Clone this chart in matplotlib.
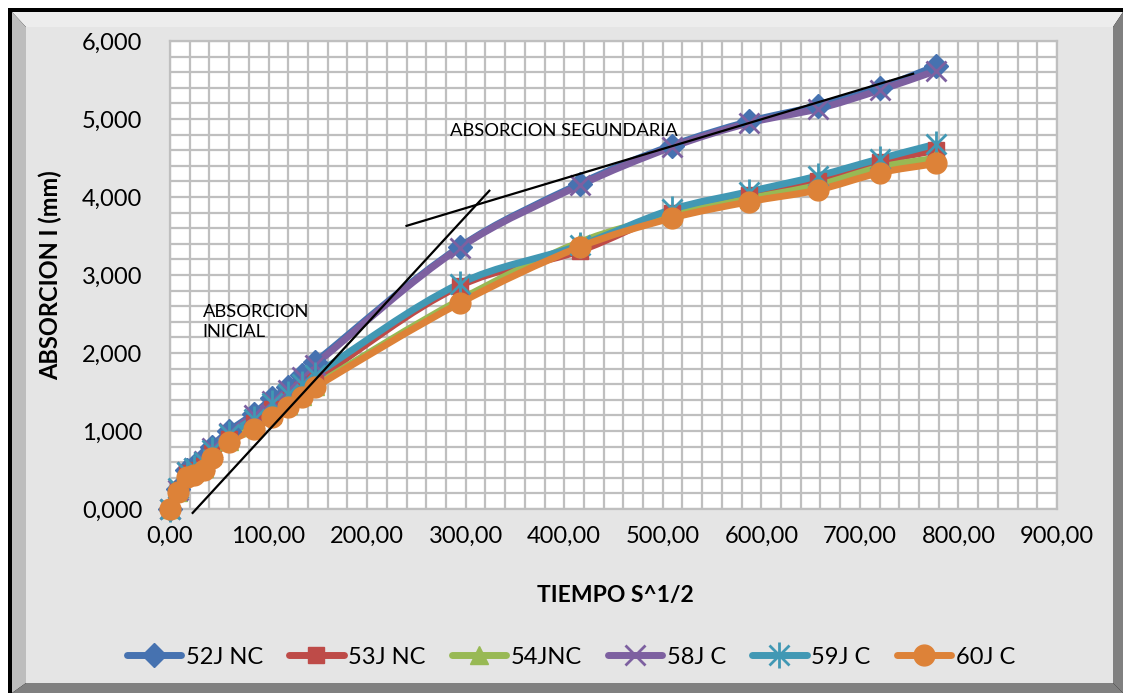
import numpy as np
import matplotlib
matplotlib.use('Agg')
import matplotlib.pyplot as plt
from matplotlib.path import Path
from matplotlib.patches import PathPatch, Polygon, Rectangle
from matplotlib.lines import Line2D
from matplotlib.ticker import FuncFormatter, MultipleLocator

plt.rcParams['font.family'] = ['Lato', 'DejaVu Sans']

# tiempo (raiz de segundos) y absorcion (mm) por probeta
tiempo = [0, 7.75, 17.32, 24.49, 34.64, 42.43, 60.00, 84.85, 103.92, 120.00,
          134.16, 146.97, 293.94, 415.69, 509.12, 587.88, 657.27, 720.00, 777.69]

j52_nc = [0, 0.26, 0.50, 0.55, 0.65, 0.80, 1.00, 1.22, 1.42, 1.56,
          1.72, 1.88, 3.36, 4.17, 4.66, 4.97, 5.17, 5.40, 5.68]
j53_nc = [0, 0.25, 0.46, 0.50, 0.55, 0.72, 0.90, 1.10, 1.28, 1.40,
          1.52, 1.65, 2.86, 3.31, 3.80, 4.03, 4.20, 4.45, 4.60]
j54_nc = [0, 0.22, 0.43, 0.47, 0.52, 0.69, 0.87, 1.05, 1.22, 1.33,
          1.45, 1.58, 2.68, 3.42, 3.77, 3.98, 4.15, 4.38, 4.50]
j58_c = [0, 0.24, 0.48, 0.53, 0.62, 0.78, 0.97, 1.20, 1.39, 1.53,
         1.69, 1.85, 3.35, 4.15, 4.64, 4.95, 5.13, 5.37, 5.62]
j59_c = [0, 0.27, 0.48, 0.52, 0.60, 0.76, 0.96, 1.16, 1.36, 1.48,
         1.60, 1.72, 2.89, 3.38, 3.84, 4.07, 4.27, 4.49, 4.68]
j60_c = [0, 0.22, 0.41, 0.44, 0.50, 0.66, 0.86, 1.02, 1.18, 1.31,
         1.43, 1.56, 2.64, 3.36, 3.73, 3.94, 4.09, 4.31, 4.43]

series = [
    ('52J NC', j52_nc, '#4672B0', 'D', 12),
    ('53J NC', j53_nc, '#BE4B48', 's', 12),
    ('54JNC', j54_nc, '#98B954', '^', 13),
    ('58J C', j58_c, '#7D60A0', 'x', 14),
    ('59J C', j59_c, '#4198B4', '*', 14),
    ('60J C', j60_c, '#DD8238', 'o', 15),
]

# rectas tangentes (inicial y secundaria)
recta_ini_x = [23.0, 324.0]
recta_ini_y = [-0.05, 4.08]
recta_sec_x = [240.0, 754.0]
recta_sec_y = [3.63, 5.58]

W, H = 1125, 696
fig = plt.figure(figsize=(W / 100, H / 100), dpi=100)


def fp(x, y):
    return (x / W, 1 - y / H)


# marco biselado
fig.add_artist(Rectangle(fp(8, 693), 1115 / W, 685 / H, transform=fig.transFigure,
                         facecolor='black', edgecolor='none', zorder=-10))
bevel = [
    ([(12, 12), (1123, 12), (1113, 27), (26, 27)], '#EDEDED'),
    ([(12, 12), (26, 27), (26, 683), (12, 693)], '#BDBDBD'),
    ([(1123, 12), (1123, 693), (1113, 683), (1113, 27)], '#808080'),
    ([(12, 693), (26, 683), (1113, 683), (1123, 693)], '#808080'),
]
for pts, col in bevel:
    fig.add_artist(Polygon([fp(*p) for p in pts], closed=True, transform=fig.transFigure,
                           facecolor=col, edgecolor='none', zorder=-9))
fig.add_artist(Rectangle(fp(26, 683), 1087 / W, 656 / H, transform=fig.transFigure,
                         facecolor='#E5E5E5', edgecolor='none', zorder=-8))

ax = fig.add_axes([170 / W, (H - 509) / H, 887 / W, 468 / H])
ax.set_zorder(1)
ax.set_facecolor('white')
ax.set_xlim(0, 900)
ax.set_ylim(0, 6)

ax.xaxis.set_major_locator(MultipleLocator(100))
ax.xaxis.set_minor_locator(MultipleLocator(20))
ax.yaxis.set_major_locator(MultipleLocator(1))
ax.yaxis.set_minor_locator(MultipleLocator(0.2))
ax.grid(which='both', color='#BFBFBF', linewidth=1.6)
ax.set_axisbelow(True)
ax.tick_params(which='both', length=0, labelsize=17)
ax.tick_params(axis='y', pad=20)
ax.tick_params(axis='x', pad=12)
ax.xaxis.set_major_formatter(FuncFormatter(lambda v, p: f'{v:.2f}'.replace('.', ',')))
ax.yaxis.set_major_formatter(FuncFormatter(lambda v, p: f'{v:.3f}'.replace('.', ',')))
for s in ax.spines.values():
    s.set_color('#BFBFBF')
    s.set_linewidth(1.6)

# escala pixel por unidad para suavizar las curvas
sx = 887 / 900
sy = 468 / 6


def curva_suave(xs, ys):
    P = np.column_stack([np.asarray(xs) * sx, np.asarray(ys) * sy])
    n = len(P)
    verts = [P[0]]
    codes = [Path.MOVETO]
    for i in range(n - 1):
        a, b = P[i], P[i + 1]
        seg = np.linalg.norm(b - a)
        t0 = P[i + 1] - P[i - 1] if i > 0 else b - a
        t1 = P[i + 2] - P[i] if i + 2 < n else b - a
        t0 = t0 / np.linalg.norm(t0)
        t1 = t1 / np.linalg.norm(t1)
        c1 = a + t0 * seg / 3
        c2 = b - t1 * seg / 3
        verts += [c1, c2, b]
        codes += [Path.CURVE4] * 3
    verts = np.array(verts)
    verts[:, 0] /= sx
    verts[:, 1] /= sy
    return Path(verts, codes)


handles = []
for nombre, vals, col, mk, ms in series:
    ax.add_patch(PathPatch(curva_suave(tiempo, vals), facecolor='none', edgecolor=col,
                           linewidth=5, capstyle='round', joinstyle='round', zorder=3))
    linea = Line2D([], [], color=col, linewidth=5, solid_capstyle='round')
    if mk == '*':
        # asterisco: aspa mas barra vertical
        for m, size in [('x', ms), ('|', ms * 1.35)]:
            ax.plot(tiempo, vals, linestyle='none', marker=m, markersize=size,
                    markeredgewidth=2, color=col, zorder=4, clip_on=False)
        handles.append((linea,
                        Line2D([], [], linestyle='none', marker='x', markersize=ms,
                               markeredgewidth=2, color=col),
                        Line2D([], [], linestyle='none', marker='|', markersize=ms * 1.35,
                               markeredgewidth=2, color=col)))
    else:
        mew = 2 if mk == 'x' else 1
        ax.plot(tiempo, vals, linestyle='none', marker=mk, markersize=ms,
                markeredgewidth=mew, color=col, zorder=4, clip_on=False)
        handles.append((linea, Line2D([], [], linestyle='none', marker=mk, markersize=ms,
                                      markeredgewidth=mew, color=col)))

ax.plot(recta_ini_x, recta_ini_y, color='black', linewidth=1.6, zorder=5, clip_on=False)
ax.plot(recta_sec_x, recta_sec_y, color='black', linewidth=1.6, zorder=5)

ax.text(284, 4.85, 'ABSORCION SEGUNDARIA', fontsize=13.2, va='center', ha='left', zorder=6)
ax.text(33, 2.4, 'ABSORCION\nINICIAL', fontsize=13.2, va='center', ha='left',
        linespacing=1.35, zorder=6)

ax.set_xlabel('TIEMPO S^1/2', fontsize=16.5, fontweight='bold')
ax.xaxis.set_label_coords(0.502, -0.162)
ax.set_ylabel('ABSORCION I (mm)', fontsize=17, fontweight='bold')
ax.yaxis.set_label_coords(-0.122, 0.5)

fig.legend(handles, [s[0] for s in series], loc='center',
           bbox_to_anchor=(571 / W, 1 - 657 / H), ncol=6, frameon=False,
           fontsize=17, handlelength=2.3, handletextpad=0.2, columnspacing=1.1)

fig.savefig('out.png', dpi=100, facecolor='white')
